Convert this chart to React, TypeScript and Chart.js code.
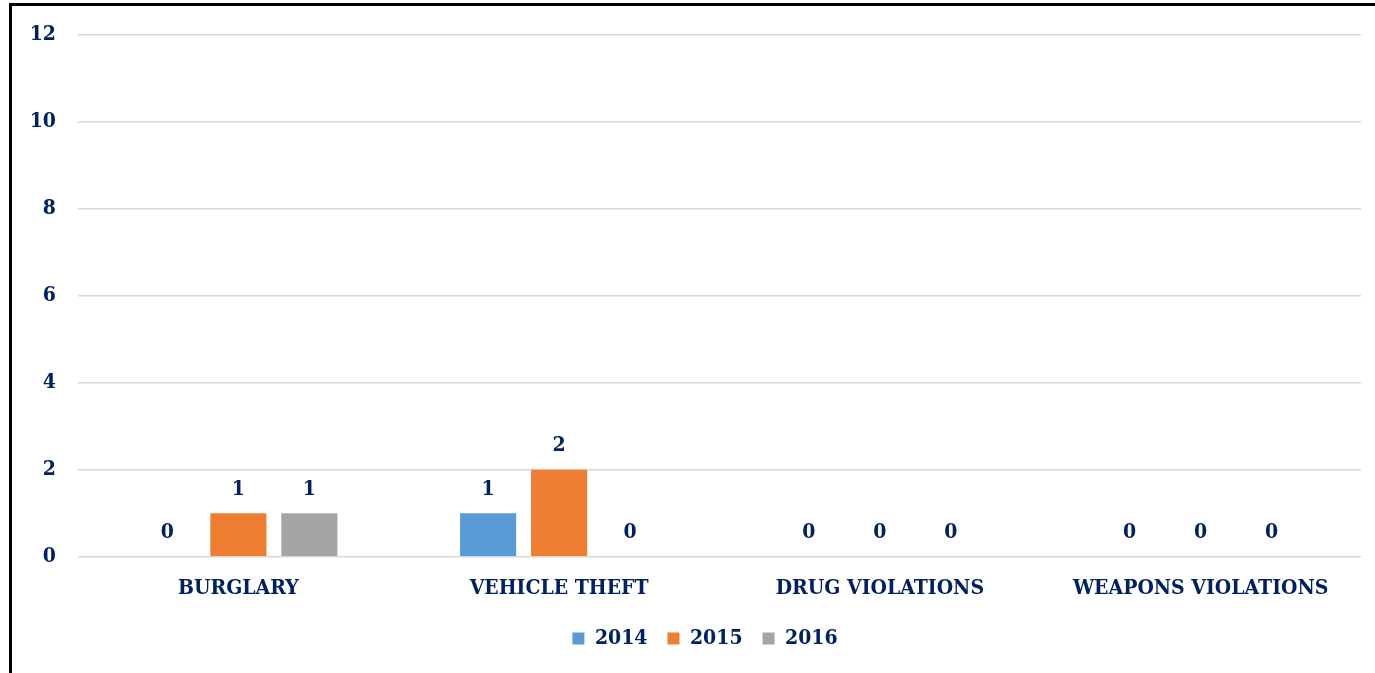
import React, { useEffect, useRef } from "react";
import { Chart, registerables } from "chart.js";

Chart.register(...registerables);

const categories = ["BURGLARY", "VEHICLE THEFT", "DRUG VIOLATIONS", "WEAPONS VIOLATIONS"];
const seriesNames = ["2014", "2015", "2016"];
const values2014 = [0, 1, 0, 0];
const values2015 = [1, 2, 0, 0];
const values2016 = [1, 0, 0, 0];
const seriesColors = ["#5B9BD5", "#ED7D31", "#A5A5A5"];
const yTicks = [0, 2, 4, 6, 8, 10, 12];

const TEXT = "#002060";
const FONT = "'DejaVu Serif Condensed', 'DejaVu Serif', serif";
const FS = 21;

const labelPlugin = {
  id: "valueLabels",
  afterLayout(chart: any) {
    if (chart.legend) {
      chart.legend.left += 49;
    }
  },
  afterDatasetsDraw(chart: any) {
    const ctx = chart.ctx;
    ctx.save();
    ctx.font = `bold ${FS}px ${FONT}`;
    ctx.fillStyle = TEXT;
    ctx.textAlign = "center";
    ctx.textBaseline = "middle";
    chart.data.datasets.forEach((ds: any, i: number) => {
      const meta = chart.getDatasetMeta(i);
      meta.data.forEach((el: any, j: number) => {
        ctx.fillText(String(ds.data[j]), el.x, el.y - 24);
      });
    });
    ctx.restore();
  },
};

export default function App() {
  const ref = useRef<HTMLCanvasElement>(null);
  useEffect(() => {
    if (!ref.current) return;
    const chart = new Chart(ref.current, {
      type: "bar",
      data: {
        labels: categories,
        datasets: [values2014, values2015, values2016].map((d, i) => ({
          label: seriesNames[i],
          data: d,
          backgroundColor: seriesColors[i],
          barPercentage: 0.79,
          categoryPercentage: 0.664,
        })),
      },
      options: {
        animation: false,
        responsive: false,
        maintainAspectRatio: false,
        layout: { padding: { left: 0, right: 14, top: 26, bottom: 14 } },
        plugins: {
          tooltip: { enabled: false },
          legend: {
            position: "bottom",
            labels: {
              boxWidth: 12,
              boxHeight: 12,
              padding: 20,
              color: TEXT,
              font: { family: FONT, size: FS, weight: "bold" },
            },
          },
        },
        scales: {
          x: {
            grid: { display: false },
            border: { display: false },
            afterFit: (s: any) => {
              s.height = s.height - 4;
            },
            ticks: {
              color: TEXT,
              padding: 11,
              font: { family: FONT, size: FS, weight: "bold" },
            },
          },
          y: {
            min: 0,
            max: 12,
            afterFit: (s: any) => {
              s.width = 78;
            },
            afterBuildTicks: (s: any) => {
              s.ticks = yTicks.map((v) => ({ value: v }));
            },
            grid: { color: "#D9D9D9", lineWidth: 1.5, drawTicks: false },
            border: { display: false },
            ticks: {
              color: TEXT,
              padding: 22,
              font: { family: FONT, size: FS, weight: "bold" },
            },
          },
        },
      },
      plugins: [labelPlugin],
    });
    return () => chart.destroy();
  }, []);
  return (
    <div style={{ position: "fixed", left: 0, top: 0, width: 1375, height: 673, background: "#fff", overflow: "hidden" }}>
      <div
        style={{
          position: "absolute",
          left: 9,
          top: 3,
          width: 1500,
          height: 800,
          borderTop: "3px solid #000",
          borderLeft: "3px solid #000",
        }}
      />
      <canvas ref={ref} width={1375} height={673} style={{ position: "absolute", left: 0, top: 0 }} />
    </div>
  );
}
